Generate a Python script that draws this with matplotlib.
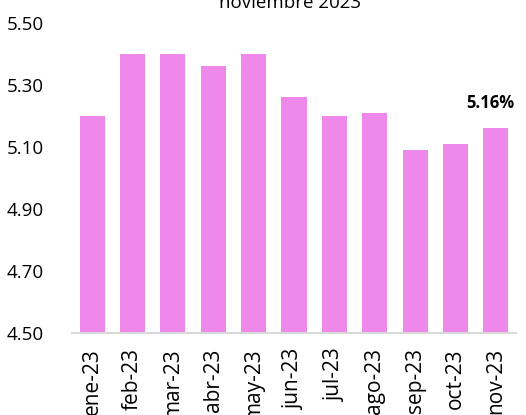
import matplotlib.pyplot as plt

plt.rcParams['font.family'] = ['Open Sans', 'DejaVu Sans']

months = ["ene-23", "feb-23", "mar-23", "abr-23", "may-23", "jun-23",
          "jul-23", "ago-23", "sep-23", "oct-23", "nov-23"]
rates = [5.20, 5.40, 5.40, 5.36, 5.40, 5.26, 5.20, 5.21, 5.09, 5.11, 5.16]
yticks = [4.50, 4.70, 4.90, 5.10, 5.30, 5.50]
last_label = "5.16%"

fig = plt.figure(figsize=(5.26, 4.15), dpi=100)
ax = fig.add_axes([72 / 526, 1 - 333 / 415, (516 - 72) / 526, 310 / 415])

x = range(len(months))
ax.bar(x, rates, width=0.62, color="#EE88EA")
ax.set_ylim(4.5, 5.5)
ax.set_xlim(-0.5, len(months) - 0.5)
ax.set_yticks(yticks)
ax.set_yticklabels([f"{v:.2f}" for v in yticks], fontsize=13.5)
ax.set_xticks(list(x))
ax.set_xticklabels(months, rotation=90, fontsize=15)
ax.tick_params(length=0)
ax.tick_params(axis="y", pad=20)
ax.tick_params(axis="x", pad=11)

for s in ["top", "right", "left"]:
    ax.spines[s].set_visible(False)
ax.spines["bottom"].set_color("#D9D9D9")
ax.spines["bottom"].set_linewidth(1.5)

ax.annotate(last_label, (len(months) - 1, rates[-1]), xytext=(-4, 12),
            textcoords="offset points", ha="center", va="bottom",
            fontsize=12, fontweight="bold")

fig.text(290 / 526, 1 - 3 / 415, "noviembre 2023", ha="center", va="center", fontsize=13.5)

fig.savefig("out.png", dpi=100)
